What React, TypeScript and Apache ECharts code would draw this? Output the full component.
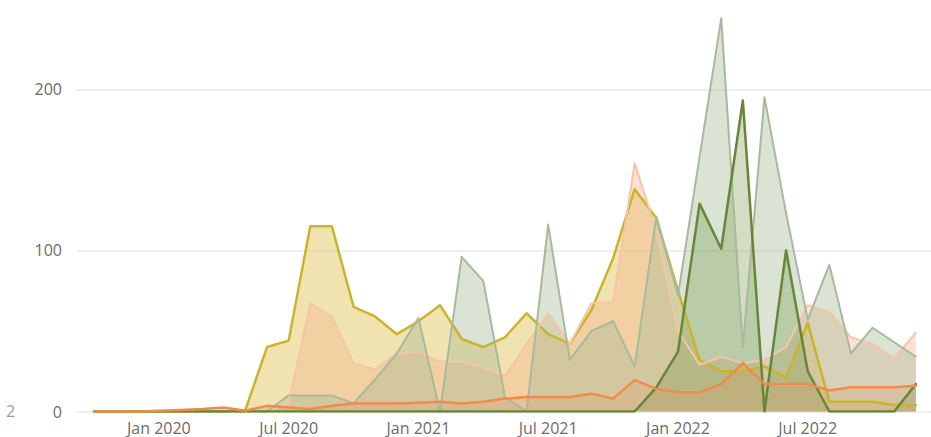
import React, { useEffect, useRef } from "react";
import * as echarts from "echarts";

// Monthly points, Oct 2019 .. Dec 2022
const months = [
  "Oct 2019", "Nov 2019", "Dec 2019",
  "Jan 2020", "Feb 2020", "Mar 2020", "Apr 2020", "May 2020", "Jun 2020", "Jul 2020", "Aug 2020", "Sep 2020", "Oct 2020", "Nov 2020", "Dec 2020",
  "Jan 2021", "Feb 2021", "Mar 2021", "Apr 2021", "May 2021", "Jun 2021", "Jul 2021", "Aug 2021", "Sep 2021", "Oct 2021", "Nov 2021", "Dec 2021",
  "Jan 2022", "Feb 2022", "Mar 2022", "Apr 2022", "May 2022", "Jun 2022", "Jul 2022", "Aug 2022", "Sep 2022", "Oct 2022", "Nov 2022", "Dec 2022",
];

const xTickLabels = ["Jan 2020", "Jul 2020", "Jan 2021", "Jul 2021", "Jan 2022", "Jul 2022"];
const yTickValues = [0, 100, 200];

const goldValues = [0, 0, 0, 0, 0, 0, 0, 1, 40, 44, 115, 115, 65, 59, 48, 56, 66, 45, 40, 46, 61, 48, 42, 63, 95, 138, 120, 75, 32, 25, 25, 28, 21, 55, 6, 6, 6, 4, 4];
const peachValues = [0, 0, 0, 0, 0, 0, 0, 0, 0, 5, 67, 59, 30, 26, 36, 37, 31, 31, 27, 22, 42, 61, 42, 67, 68, 154, 112, 50, 29, 34, 30, 32, 40, 66, 62, 46, 42, 33, 49];
const sageValues = [0, 0, 0, 0, 0, 0, 0, 0, 0, 10, 10, 10, 5, 20, 36, 58, 0, 96, 81, 9, 0, 116, 32, 50, 56, 28, 121, 72, 158, 244, 40, 195, 123, 57, 91, 36, 52, 43, 34];
const darkGreenValues = [0, 0, 0, 0, 0, 0, 0, 0, 0, 0, 0, 0, 0, 0, 0, 0, 0, 0, 0, 0, 0, 0, 0, 0, 0, 0, 15, 37, 129, 101, 193, 0, 100, 25, 0, 0, 0, 0, 17];
const orangeValues = [0, 0, 0, 0.5, 1, 1.5, 2.5, 0.5, 3.5, 2.5, 1.5, 3.5, 5, 5, 5, 5.5, 6, 5, 6, 8, 9, 9, 9, 11, 8, 19.5, 14, 12, 12, 17, 30, 17, 17, 17, 13, 15, 15, 15, 16];

const FONT = "'Open Sans', 'Noto Sans', sans-serif";

function areaSeries(name: string, values: number[], line: string, fill: string, opacity: number, width: number) {
  return {
    name,
    type: "line",
    data: values.map((v, i) => [i, v]),
    symbol: "none",
    lineStyle: { color: line, width, cap: "round", join: "round" },
    areaStyle: { color: fill, opacity },
    emphasis: { disabled: true },
  };
}

export default function App() {
  const ref = useRef<HTMLDivElement>(null);
  useEffect(() => {
    if (!ref.current) return;
    const chart = echarts.init(ref.current, null, { renderer: "svg" });
    chart.setOption({
      animation: false,
      backgroundColor: "#ffffff",
      grid: { left: 77, right: 0, top: 0, bottom: 25.5, containLabel: false },
      xAxis: {
        type: "value",
        min: -0.786,
        max: 38.7,
        axisLine: { show: false },
        axisTick: { show: false },
        splitLine: { show: false },
        axisLabel: {
          customValues: xTickLabels.map((l) => months.indexOf(l)),
          formatter: (v: number) => months[Math.round(v)] ?? "",
          fontSize: 16,
          color: "#6b6b6b",
          fontFamily: FONT,
          margin: 8,
        },
      },
      yAxis: {
        type: "value",
        min: 0,
        max: 255.4,
        interval: 100,
        axisLine: { show: false },
        axisTick: { show: false },
        axisLabel: {
          customValues: yTickValues,
          fontSize: 16,
          color: "#6b6b6b",
          fontFamily: FONT,
          margin: 15,
        },
        splitLine: { showMaxLine: false, lineStyle: { color: "#eeeeee", width: 2 } },
      },
      graphic: [
        { type: "text", left: 6, top: 403, style: { text: "2", fontSize: 16, fill: "#9a9a9a", fontFamily: FONT } },
      ],
      series: [
        areaSeries("Gold", goldValues, "#cbb42c", "#e2c862", 0.5, 2.5),
        areaSeries("Peach", peachValues, "#f6c4a6", "#f4b48e", 0.4, 2),
        areaSeries("Sage", sageValues, "#a9b99d", "#a6b896", 0.4, 2),
        areaSeries("Dark green", darkGreenValues, "#66873a", "#7e9f55", 0.35, 2.5),
        areaSeries("Orange", orangeValues, "#f28a4a", "#d9a070", 0.3, 2.5),
      ],
    });
    return () => chart.dispose();
  }, []);
  return <div ref={ref} style={{ position: "fixed", left: 0, top: 0, width: 931, height: 437 }} />;
}
